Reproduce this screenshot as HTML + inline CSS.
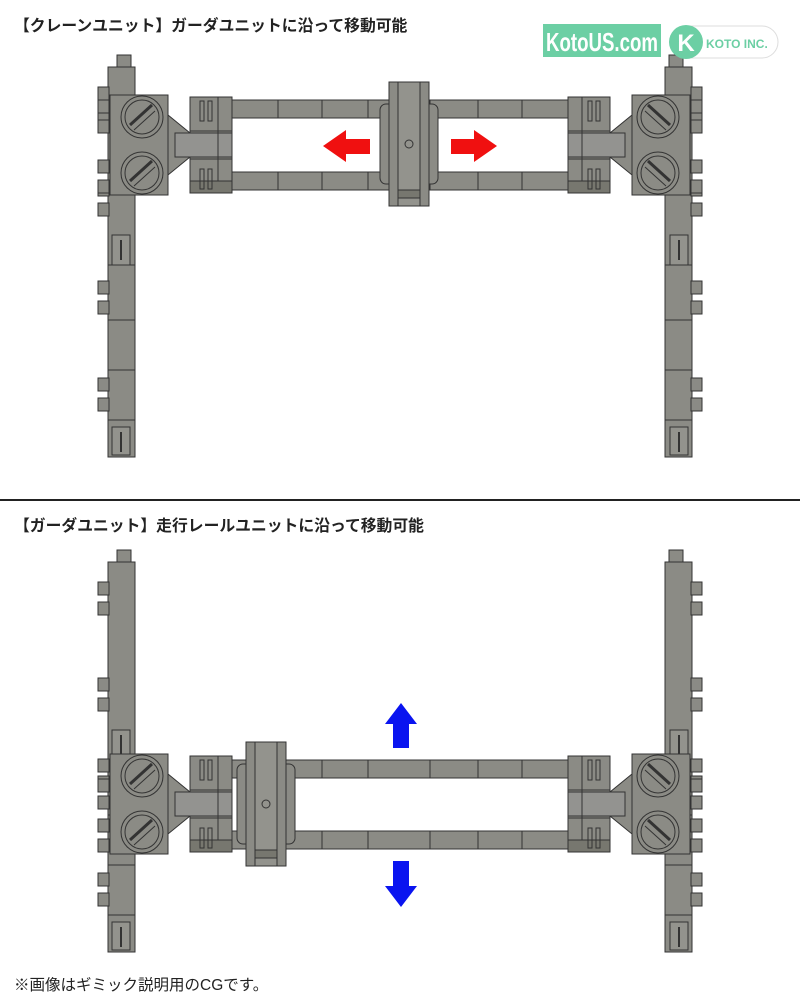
<!DOCTYPE html>
<html><head><meta charset="utf-8"><style>
body{margin:0;width:800px;height:1000px;background:#fff;position:relative;overflow:hidden;font-family:"Liberation Sans","Noto Sans CJK JP",sans-serif}
.t{position:absolute;left:14px;font-size:15.8px;font-weight:bold;color:#222;white-space:nowrap}
svg{position:absolute;left:0;top:0}
</style></head><body>
<svg width="800" height="1000" viewBox="0 0 800 1000">
<defs>
<g id="col" stroke="#333" stroke-width="1" fill="#8b8b85">
  <rect x="117" y="0" width="14" height="14"/>
  <rect x="108" y="12" width="27" height="390"/>
  <rect x="98" y="32" width="11" height="13"/><rect x="98" y="52" width="11" height="13"/>
  <rect x="98" y="128" width="11" height="13"/><rect x="98" y="148" width="11" height="13"/>
  <rect x="98" y="226" width="11" height="13"/><rect x="98" y="246" width="11" height="13"/>
  <rect x="98" y="323" width="11" height="13"/><rect x="98" y="343" width="11" height="13"/>
  <line x1="108" y1="210" x2="135" y2="210"/><line x1="108" y1="265" x2="135" y2="265"/>
  <line x1="108" y1="315" x2="135" y2="315"/><line x1="108" y1="365" x2="135" y2="365"/>
  <rect x="112" y="180" width="18" height="30" fill="#93938d"/><line x1="121" y1="185" x2="121" y2="205" stroke-width="2"/>
  <rect x="112" y="372" width="18" height="28" fill="#93938d"/><line x1="121" y1="377" x2="121" y2="397" stroke-width="2"/>
</g>
<g id="end" stroke="#333" stroke-width="1" fill="#8b8b85">
  <rect x="110" y="-50" width="58" height="100"/>
  <polygon points="168,-30 190,-12 190,12 168,30"/>
  <rect x="190" y="-48" width="42" height="96"/>
  <rect x="175" y="-12" width="57" height="24" fill="#939390"/>
  <line x1="190" y1="-14" x2="232" y2="-14"/><line x1="190" y1="14" x2="232" y2="14"/>
  <line x1="218" y1="-48" x2="218" y2="48"/>
  <rect x="190" y="36" width="42" height="12" fill="#77776f"/>
  <rect x="200" y="-44" width="4" height="20" fill="none"/><rect x="208" y="-44" width="4" height="20" fill="none"/>
  <rect x="200" y="24" width="4" height="20" fill="none"/><rect x="208" y="24" width="4" height="20" fill="none"/>
  <circle cx="142" cy="-28" r="21"/><circle cx="142" cy="-28" r="17"/>
  <line x1="130" y1="-20" x2="152" y2="-40" stroke-width="3"/><line x1="134" y1="-15" x2="155" y2="-34" stroke-width="1"/>
  <circle cx="142" cy="28" r="21"/><circle cx="142" cy="28" r="17"/>
  <line x1="130" y1="36" x2="152" y2="16" stroke-width="3"/><line x1="134" y1="41" x2="155" y2="22" stroke-width="1"/>
  <rect x="98" y="-45" width="11" height="13"/><rect x="98" y="-25" width="11" height="13"/>
  <rect x="98" y="15" width="11" height="13"/><rect x="98" y="35" width="11" height="13"/>
</g>
<g id="beam" stroke="#333" stroke-width="1" fill="#8b8b85">
  <rect x="232" y="0" width="336" height="18"/>
  <line x1="278" y1="0" x2="278" y2="18"/><line x1="322" y1="0" x2="322" y2="18"/>
  <line x1="368" y1="0" x2="368" y2="18"/><line x1="430" y1="0" x2="430" y2="18"/>
  <line x1="478" y1="0" x2="478" y2="18"/><line x1="522" y1="0" x2="522" y2="18"/>
</g>
<g id="car" stroke="#333" stroke-width="1" fill="#8b8b85">
  <rect x="-29" y="-40" width="58" height="80" rx="6"/>
  <rect x="-20" y="-62" width="40" height="124"/>
  <rect x="-11" y="-62" width="22" height="124" fill="#93938d"/>
  <rect x="-11" y="46" width="22" height="8" fill="#77776f"/>
  <circle cx="0" cy="0" r="4" fill="none"/>
</g>
</defs>
<use href="#col" y="55"/><use href="#col" transform="translate(800,55) scale(-1,1)"/>
<use href="#beam" y="100"/><use href="#beam" y="172"/>
<use href="#end" y="145"/><use href="#end" transform="translate(800,145) scale(-1,1)"/>
<use href="#car" transform="translate(409,144)"/>
<polygon points="323,146 346,130 346,139 370,139 370,154 346,154 346,162" fill="#f01010"/>
<polygon points="497,146 474,130 474,139 451,139 451,154 474,154 474,162" fill="#f01010"/>
<line x1="0" y1="500" x2="800" y2="500" stroke="#222" stroke-width="2"/>
<use href="#col" y="550"/><use href="#col" transform="translate(800,550) scale(-1,1)"/>
<use href="#beam" y="760"/><use href="#beam" y="831"/>
<use href="#end" y="804"/><use href="#end" transform="translate(800,804) scale(-1,1)"/>
<use href="#car" transform="translate(266,804)"/>
<polygon points="401,703 385,724 393,724 393,748 409,748 409,724 417,724" fill="#0a14f0"/>
<polygon points="401,907 385,886 393,886 393,861 409,861 409,886 417,886" fill="#0a14f0"/>
<rect x="543" y="24" width="118" height="33" fill="#6ccfa4"/>
<text x="602" y="51" font-family="Liberation Sans" font-weight="bold" font-size="26" fill="#fff" text-anchor="middle" textLength="112" lengthAdjust="spacingAndGlyphs">KotoUS.com</text>
<rect x="672" y="26" width="106" height="32" rx="16" fill="#fff" stroke="#ddd"/>
<circle cx="686" cy="42" r="17" fill="#6ccfa4"/>
<text x="686" y="51" font-family="Liberation Sans" font-weight="bold" font-size="24" fill="#fff" text-anchor="middle">K</text>
<text x="706" y="48" font-family="Liberation Sans" font-weight="bold" font-size="12" fill="#6ccfa4">KOTO INC.</text>
</svg>
<div class="t" style="top:13px">【クレーンユニット】ガーダユニットに沿って移動可能</div>
<div class="t" style="top:513px">【ガーダユニット】走行レールユニットに沿って移動可能</div>
<div class="t" style="top:973px;font-weight:normal;font-size:15.5px">※画像はギミック説明用のCGです。</div>
</body></html>
